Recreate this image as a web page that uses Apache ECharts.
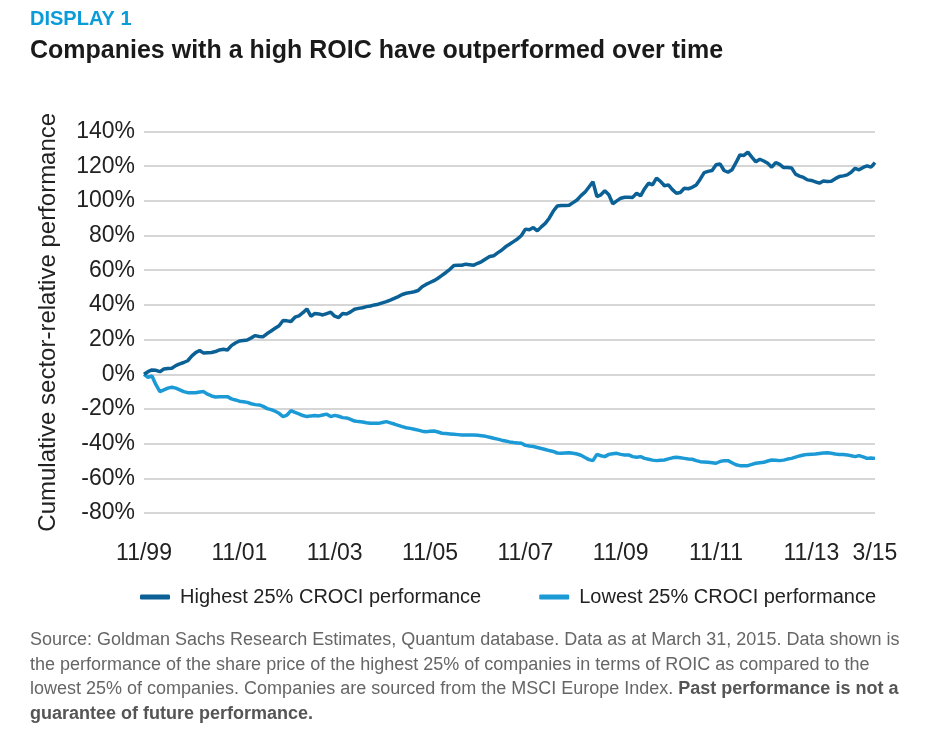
<!DOCTYPE html>
<html>
<head>
<meta charset="utf-8">
<script src="https://cdn.jsdelivr.net/npm/echarts@6/dist/echarts.min.js"></script>
<style>
html,body{margin:0;padding:0;background:#fff;}
#chart{width:946px;height:736px;}
</style>
</head>
<body>
<div id="chart"></div>
<script>
// Monthly categories 11/1999 .. 3/2015
var categories = [];
(function(){
  var y = 1999, m = 11;
  for (var i = 0; i < 185; i++) {
    categories.push(m + '/' + String(y % 100).padStart(2, '0'));
    m++; if (m > 12) { m = 1; y++; }
  }
})();

var tickLabels = ['11/99','11/01','11/03','11/05','11/07','11/09','11/11','11/13','3/15'];

var highest = [
  0, 1.5, 2.5, 2.3, 1.5, 3.0, 3.3, 3.5, 5.0, 6.0,
  6.8, 7.8, 10.5, 12.5, 13.7, 12.2, 12.4, 12.6, 13.1, 14.0,
  14.4, 14.0, 16.5, 18.0, 19.2, 19.5, 19.8, 21.0, 22.3, 21.8,
  21.7, 23.5, 25.0, 26.5, 28.0, 31.0, 30.8, 30.4, 32.9, 33.7,
  35.5, 37.7, 33.5, 35.0, 34.8, 34.2, 35.0, 35.8, 33.5, 32.7,
  35.0, 34.8, 36.0, 37.5, 38.0, 38.4, 39.0, 39.4, 40.0, 40.4,
  41.2, 41.9, 42.8, 43.8, 44.8, 46.0, 46.7, 47.1, 47.6, 48.3,
  50.5, 51.8, 52.9, 54.0, 55.4, 57.0, 58.7, 60.5, 62.7, 62.8,
  62.9, 63.5, 63.2, 62.9, 64.0, 65.0, 66.5, 67.9, 68.3, 70.0,
  71.5, 73.5, 75.0, 76.5, 78.0, 80.0, 83.7, 83.3, 84.6, 82.7,
  85.0, 87.0, 90.0, 94.0, 97.0, 97.3, 97.3, 97.5, 99.0, 100.5,
  103.0, 105.0, 108.0, 111.0, 102.5, 103.5, 105.8, 103.5, 98.3, 100.0,
  101.5, 102.1, 102.1, 102.0, 104.4, 102.9, 107.0, 110.2, 109.2, 113.1,
  111.2, 108.7, 109.2, 106.5, 104.4, 104.8, 107.3, 107.0, 107.8, 109.2,
  112.5, 116.3, 117.0, 117.5, 120.8, 121.3, 117.5, 116.5, 117.9, 122.0,
  126.5, 126.2, 128.1, 125.2, 122.5, 124.0, 123.0, 121.7, 119.4, 122.1,
  121.0, 119.2, 119.2, 119.0, 115.4, 114.3, 113.5, 112.1, 111.8, 111.0,
  110.2, 111.5, 111.2, 111.3, 112.8, 114.0, 114.4, 115.0, 116.5, 118.8,
  117.9, 119.3, 120.2, 119.4, 122.1
];

var lowest = [
  0, -1.7, -1.0, -6.0, -10.0, -9.0, -8.0, -7.5, -8.0, -9.0,
  -10.0, -10.6, -10.6, -10.6, -10.2, -10.0, -11.5, -12.5, -13.1, -12.9,
  -12.9, -12.9, -14.2, -14.8, -15.5, -15.8, -16.2, -17.0, -17.5, -17.7,
  -18.5, -19.8, -20.4, -21.3, -22.5, -24.4, -23.5, -21.0, -22.0, -22.8,
  -23.8, -24.4, -24.0, -23.8, -24.0, -23.5, -23.0, -24.4, -23.7, -24.2,
  -25.0, -25.2, -26.0, -27.0, -27.3, -27.5, -28.0, -28.3, -28.2, -28.3,
  -27.8, -27.3, -28.0, -28.7, -29.5, -30.2, -30.8, -31.2, -31.7, -32.2,
  -32.8, -33.1, -32.9, -32.7, -33.3, -34.0, -34.2, -34.4, -34.6, -34.8,
  -35.0, -35.0, -35.0, -35.0, -35.2, -35.5, -35.8, -36.3, -36.9, -37.4,
  -38.0, -38.5, -39.0, -39.4, -39.6, -39.8, -41.0, -41.4, -41.7, -42.2,
  -42.8, -43.4, -44.0, -44.5, -45.4, -45.6, -45.4, -45.2, -45.6, -46.0,
  -46.7, -48.0, -49.2, -49.8, -46.2, -47.0, -47.5, -46.2, -45.8, -45.6,
  -46.2, -46.5, -46.5, -47.5, -47.9, -47.5, -48.5, -49.0, -49.5, -49.8,
  -49.6, -49.4, -48.8, -48.2, -47.9, -48.2, -48.5, -48.8, -49.0, -49.8,
  -50.4, -50.6, -50.8, -51.0, -51.3, -50.3, -49.8, -49.8, -51.0, -52.2,
  -52.7, -52.7, -52.7, -52.0, -51.3, -51.0, -50.8, -50.0, -49.4, -49.6,
  -49.8, -49.5, -48.9, -48.5, -47.8, -47.1, -46.6, -46.2, -46.1, -46.0,
  -45.7, -45.4, -45.2, -45.5, -46.0, -46.2, -46.3, -46.5, -47.0, -47.5,
  -46.9, -47.6, -48.5, -48.3, -48.5
];

var seriesNames = ['Highest 25% CROCI performance', 'Lowest 25% CROCI performance'];

var FONT = '"Liberation Sans", Arial, sans-serif';
var chart = echarts.init(document.getElementById('chart'), null, {renderer: 'canvas'});

chart.setOption({
  backgroundColor: '#ffffff',
  animation: false,
  textStyle: {fontFamily: FONT},
  grid: {left: 144, right: 71, top: 131.5, bottom: 223, containLabel: false},
  legend: {
    left: 135, top: 582,
    itemWidth: 30, itemHeight: 5, itemGap: 58,
    icon: 'roundRect',
    textStyle: {fontSize: 20, color: '#222', fontFamily: FONT, padding: [0, 0, 0, 5]},
    data: seriesNames
  },
  xAxis: {
    type: 'category',
    data: categories,
    boundaryGap: false,
    axisLine: {show: false},
    axisTick: {show: false},
    splitLine: {show: false},
    axisLabel: {
      interval: function (idx) { return tickLabels.indexOf(categories[idx]) >= 0 && (idx % 24 === 0 || idx === categories.length - 1); },
      fontSize: 23, color: '#222', margin: 29, fontFamily: FONT
    }
  },
  yAxis: {
    type: 'value',
    min: -80, max: 140, interval: 20,
    name: 'Cumulative sector-relative performance',
    nameLocation: 'middle',
    nameRotate: 90,
    nameGap: 84,
    nameTextStyle: {fontSize: 24, color: '#222', fontFamily: FONT},
    axisLine: {show: false},
    axisTick: {show: false},
    axisLabel: {formatter: '{value}%', fontSize: 23, color: '#222', margin: 9, fontFamily: FONT},
    splitLine: {lineStyle: {color: '#c8c8c8', width: 1.5}}
  },
  series: [
    {
      name: seriesNames[1], type: 'line', data: lowest, symbol: 'none',
      lineStyle: {color: '#1b9ad6', width: 3.5}, itemStyle: {color: '#1b9ad6'}
    },
    {
      name: seriesNames[0], type: 'line', data: highest, symbol: 'none',
      lineStyle: {color: '#0b6196', width: 3.5}, itemStyle: {color: '#0b6196'}
    }
  ],
  graphic: [
    {type: 'text', left: 30, top: 9, style: {text: 'DISPLAY 1', font: 'bold 20px ' + FONT, fill: '#0a9bd9'}},
    {type: 'text', left: 30, top: 39, style: {text: 'Companies with a high ROIC have outperformed over time', font: 'bold 25px ' + FONT, fill: '#1a1a1a'}},
    {type: 'text', left: 30, top: 628, style: {
      text: 'Source: Goldman Sachs Research Estimates, Quantum database. Data as at March 31, 2015. Data shown is\n' +
            'the performance of the share price of the highest 25% of companies in terms of ROIC as compared to the\n' +
            'lowest 25% of companies. Companies are sourced from the MSCI Europe Index. {b|Past performance is not a}\n' +
            '{b|guarantee of future performance.}',
      fontSize: 18, fontFamily: FONT, fill: '#666666', lineHeight: 24.5,
      rich: {b: {fontSize: 18, fontFamily: FONT, fontWeight: 'bold', fill: '#555555', lineHeight: 24.5}}
    }}
  ]
});
</script>
</body>
</html>
